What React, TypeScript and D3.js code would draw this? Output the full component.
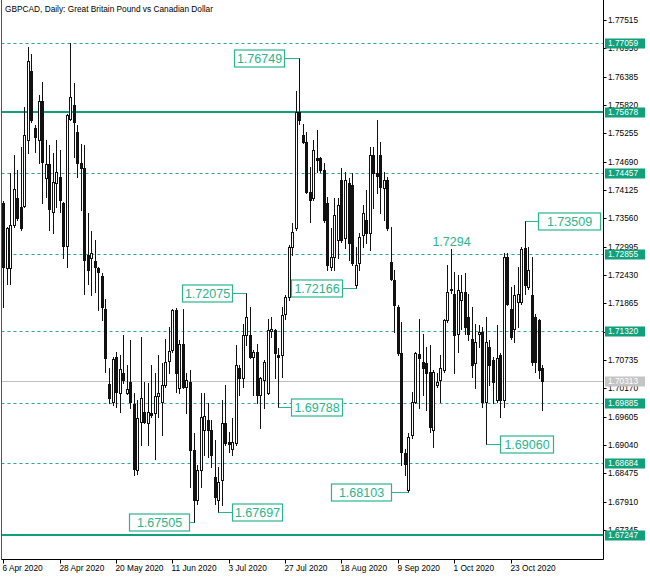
import React from "react";
import * as d3 from "d3";

// ---- Daily OHLC, GBPCAD, 6 Apr 2020 .. 5 Nov 2020 ----
const open = [
  1.7386, 1.7256, 1.7256, 1.7343, 1.7396, 1.7379, 1.7381, 1.7512, 1.7650, 1.7537,
  1.7512, 1.7590, 1.7436, 1.7464, 1.7369, 1.7426, 1.7439, 1.7387, 1.7301, 1.7555,
  1.7582, 1.7529, 1.7466, 1.7457, 1.7283, 1.7276, 1.7271, 1.7256, 1.7241, 1.7176,
  1.7025, 1.6990, 1.7080, 1.7007, 1.7047, 1.7007, 1.7030, 1.6985, 1.6854, 1.6950,
  1.6970, 1.6948, 1.6967, 1.6967, 1.7001, 1.6990, 1.7023, 1.7072, 1.7093, 1.7173,
  1.7017, 1.7105, 1.7020, 1.7030, 1.6894, 1.6794, 1.6854, 1.6934, 1.6954, 1.6934,
  1.6840, 1.6794, 1.6834, 1.6948, 1.6910, 1.6897, 1.6907, 1.7057, 1.7037, 1.7123,
  1.7123, 1.7080, 1.7090, 1.7003, 1.7033, 1.7007, 1.7132, 1.7133, 1.7083, 1.7083,
  1.7166, 1.7200, 1.7299, 1.7336, 1.7569, 1.7523, 1.7509, 1.7409, 1.7396, 1.7476,
  1.7476, 1.7452, 1.7387, 1.7259, 1.7279, 1.7313, 1.7432, 1.7316, 1.7426, 1.7422,
  1.7223, 1.7266, 1.7323, 1.7353, 1.7327, 1.7482, 1.7447, 1.7482, 1.7416, 1.7432,
  1.7269, 1.7233, 1.7180, 1.7088, 1.6888, 1.6815, 1.6924, 1.6990, 1.7085, 1.7070,
  1.7068, 1.7050, 1.6934, 1.7023, 1.7033, 1.7053, 1.7153, 1.7213, 1.7205, 1.7126,
  1.7193, 1.7210, 1.7160, 1.7116, 1.7067, 1.7126, 1.7130, 1.6990, 1.7100, 1.7073,
  1.6993, 1.7083, 1.6993, 1.7279, 1.7176, 1.7136, 1.7190, 1.7190, 1.7296, 1.7220,
  1.7203, 1.7160, 1.7153, 1.7057,
];
const high = [
  1.7390, 1.7339, 1.7446, 1.7482, 1.7452, 1.7499, 1.7579, 1.7698, 1.7683, 1.7542,
  1.7602, 1.7627, 1.7512, 1.7503, 1.7486, 1.7512, 1.7492, 1.7389, 1.7565, 1.7705,
  1.7625, 1.7542, 1.7505, 1.7502, 1.7366, 1.7331, 1.7313, 1.7259, 1.7246, 1.7196,
  1.7057, 1.7080, 1.7090, 1.7083, 1.7123, 1.7063, 1.7113, 1.7007, 1.6993, 1.7120,
  1.7030, 1.7027, 1.7063, 1.7047, 1.7083, 1.7067, 1.7116, 1.7140, 1.7176, 1.7178,
  1.7113, 1.7176, 1.7047, 1.7053, 1.6927, 1.6864, 1.7007, 1.7007, 1.6987, 1.6954,
  1.6914, 1.6860, 1.6993, 1.7023, 1.6930, 1.6957, 1.7103, 1.7063, 1.7146, 1.72075,
  1.7180, 1.7093, 1.7106, 1.7040, 1.7073, 1.7156, 1.7160, 1.7135, 1.7097, 1.7180,
  1.7203, 1.7303, 1.7346, 1.7609, 1.76749, 1.7545, 1.7529, 1.7459, 1.7512, 1.7532,
  1.7479, 1.7466, 1.7399, 1.7336, 1.7396, 1.7396, 1.7456, 1.7449, 1.7436, 1.7446,
  1.7299, 1.7326, 1.7382, 1.7412, 1.7499, 1.7499, 1.7553, 1.7509, 1.7449, 1.7439,
  1.7339, 1.7253, 1.7183, 1.7150, 1.6897, 1.6927, 1.7010, 1.7090, 1.7156, 1.7126,
  1.7100, 1.7103, 1.7053, 1.7047, 1.7083, 1.7156, 1.7263, 1.7294, 1.7249, 1.7243,
  1.7243, 1.7246, 1.7206, 1.7180, 1.7146, 1.7143, 1.7140, 1.7160, 1.7113, 1.7080,
  1.7143, 1.7087, 1.7286, 1.7286, 1.7220, 1.7223, 1.7259, 1.7299, 1.73509, 1.7299,
  1.7279, 1.7166, 1.7156, 1.7063,
];
const low = [
  1.7180, 1.7226, 1.7226, 1.7339, 1.7353, 1.7333, 1.7379, 1.7486, 1.7549, 1.7489,
  1.7466, 1.7386, 1.7399, 1.7333, 1.7326, 1.7379, 1.7369, 1.7276, 1.7259, 1.7552,
  1.7479, 1.7439, 1.7372, 1.7206, 1.7226, 1.7203, 1.7210, 1.7173, 1.7153, 1.7050,
  1.6987, 1.6983, 1.6980, 1.6970, 1.7027, 1.7006, 1.6977, 1.6844, 1.6847, 1.6904,
  1.6947, 1.6904, 1.6960, 1.6877, 1.6960, 1.6924, 1.7020, 1.7047, 1.7090, 1.7010,
  1.7007, 1.7017, 1.6967, 1.6821, 1.67505, 1.6787, 1.6821, 1.6884, 1.6880, 1.6860,
  1.6787, 1.67697, 1.6784, 1.6904, 1.6890, 1.6884, 1.6904, 1.7003, 1.7020, 1.7103,
  1.7077, 1.7003, 1.6987, 1.6937, 1.6977, 1.7005, 1.7120, 1.7037, 1.69788, 1.7040,
  1.7156, 1.7193, 1.7283, 1.7333, 1.7545, 1.7507, 1.7407, 1.7349, 1.7392, 1.7449,
  1.7449, 1.7349, 1.7253, 1.7253, 1.7253, 1.7276, 1.7309, 1.7296, 1.7273, 1.7263,
  1.72166, 1.7253, 1.7299, 1.7306, 1.7293, 1.7376, 1.7406, 1.7366, 1.7353, 1.7333,
  1.7233, 1.7130, 1.7083, 1.6864, 1.6844, 1.68103, 1.6917, 1.6987, 1.6977, 1.7003,
  1.6973, 1.6930, 1.6900, 1.7020, 1.6990, 1.7050, 1.7150, 1.7208, 1.7047, 1.7090,
  1.7136, 1.7126, 1.7113, 1.7040, 1.7017, 1.7100, 1.6980, 1.69060, 1.7023, 1.6987,
  1.6990, 1.6960, 1.6980, 1.7183, 1.7116, 1.7110, 1.7140, 1.7186, 1.7206, 1.7216,
  1.7063, 1.7050, 1.7037, 1.6973,
];
const close = [
  1.7259, 1.7336, 1.7343, 1.7414, 1.7356, 1.7336, 1.7523, 1.7670, 1.7552, 1.7519,
  1.7590, 1.7469, 1.7464, 1.7374, 1.7428, 1.7448, 1.7392, 1.7301, 1.7562, 1.7597,
  1.7549, 1.7466, 1.7457, 1.7273, 1.7253, 1.7286, 1.7259, 1.7249, 1.7180, 1.7077,
  1.6997, 1.7075, 1.7010, 1.7055, 1.7033, 1.7015, 1.6990, 1.6857, 1.6957, 1.6997,
  1.6950, 1.6970, 1.6963, 1.7001, 1.7007, 1.7023, 1.7070, 1.7092, 1.7173, 1.7047,
  1.7106, 1.7020, 1.7033, 1.6894, 1.6794, 1.6854, 1.6960, 1.6962, 1.6934, 1.6884,
  1.6801, 1.6831, 1.6947, 1.6907, 1.6906, 1.6910, 1.7063, 1.7037, 1.7123, 1.7160,
  1.7080, 1.7090, 1.7003, 1.7037, 1.7070, 1.7133, 1.7136, 1.7087, 1.7079, 1.7163,
  1.7200, 1.7299, 1.7329, 1.7569, 1.7552, 1.7509, 1.7409, 1.7392, 1.7492, 1.7472,
  1.7452, 1.7353, 1.7263, 1.7279, 1.7362, 1.7382, 1.7313, 1.7432, 1.7306, 1.7266,
  1.7263, 1.7319, 1.7366, 1.7326, 1.7482, 1.7446, 1.7440, 1.7419, 1.7432, 1.7336,
  1.7236, 1.7183, 1.7087, 1.6890, 1.6867, 1.6920, 1.6990, 1.7088, 1.7077, 1.7057,
  1.7048, 1.6940, 1.7050, 1.7030, 1.7057, 1.7153, 1.7210, 1.7216, 1.7123, 1.7213,
  1.7210, 1.7140, 1.7126, 1.7063, 1.7110, 1.7130, 1.6990, 1.7110, 1.7063, 1.7030,
  1.7077, 1.6993, 1.7279, 1.7186, 1.7120, 1.7203, 1.7206, 1.7294, 1.7223, 1.7253,
  1.7070, 1.7070, 1.7053, 1.70313,
];

// ---- Axis texts / levels ----
const dateLabels = [
  "6 Apr 2020", "28 Apr 2020", "20 May 2020", "11 Jun 2020", "3 Jul 2020",
  "27 Jul 2020", "18 Aug 2020", "9 Sep 2020", "1 Oct 2020", "23 Oct 2020",
];
const dateLabelBars = [0, 16, 32, 48, 64, 80, 96, 112, 128, 144];
const priceTicks = [
  1.77515, 1.7695, 1.76385, 1.7582, 1.75255, 1.7469, 1.74125, 1.7356, 1.72995,
  1.7243, 1.71865, 1.713, 1.70735, 1.7017, 1.69605, 1.6904, 1.68475, 1.6791, 1.67345,
];
const dashedLevels = [1.77059, 1.74457, 1.72855, 1.7132, 1.69885, 1.68684];
const solidLevels = [1.75678, 1.67247];
const currentPrice = 1.70313;
const title = "GBPCAD, Daily:  Great Britain Pound vs Canadian Dollar";

// Annotated extremes: bar index, which extreme, and the box placement
const boxedMarks = [
  { bar: 84, kind: "high", boxX: 234, boxW: 50 },
  { bar: 69, kind: "high", boxX: 182, boxW: 50 },
  { bar: 100, kind: "low", boxX: 291, boxW: 51 },
  { bar: 78, kind: "low", boxX: 291, boxW: 51 },
  { bar: 61, kind: "low", boxX: 232, boxW: 50 },
  { bar: 54, kind: "low", boxX: 129, boxW: 60 },
  { bar: 115, kind: "low", boxX: 331, boxW: 60 },
  { bar: 137, kind: "low", boxX: 500, boxW: 53 },
  { bar: 148, kind: "high", boxX: 538, boxW: 62 },
];
const textMarks = [{ bar: 127, kind: "high", label: "1.7294" }];

const GREEN = "#11a07a";
const DASH = "#28ab85";
const ANN = "#2cb48c";
const FONT = "'Liberation Sans', Arial, sans-serif";

export default function App() {
  const W = 650, H = 578;
  const plotL = 1.5, plotR = 603.5, plotB = 559.5;
  const n = open.length;
  const x = d3.scaleLinear().domain([0, n - 1]).range([3.3, 542.3]);
  const y = d3.scaleLinear().domain([1.67345, 1.77515]).range([530, 20]);
  const px = (i: number) => Math.round(x(i)) + 0.5;
  const py = (v: number) => Math.round(y(v)) + 0.5;

  const candles = d3.range(n).map((i) => {
    const o = open[i], c = close[i];
    const h = Math.max(high[i], o, c), l = Math.min(low[i], o, c);
    const cx = px(i);
    const top = Math.round(y(Math.max(o, c)));
    const bot = Math.round(y(Math.min(o, c)));
    const bull = c >= o;
    return (
      <g key={i}>
        <line x1={cx} x2={cx} y1={Math.round(y(h))} y2={Math.round(y(l)) + 1} stroke="#111" strokeWidth={1} />
        {bot - top <= 0 ? (
          <line x1={cx - 1.5} x2={cx + 1.5} y1={top + 0.5} y2={top + 0.5} stroke="#111" strokeWidth={1} />
        ) : (
          <rect x={cx - 1} y={top + 0.5} width={2} height={bot - top} fill={bull ? "#fff" : "#111"} stroke="#111" strokeWidth={1} />
        )}
      </g>
    );
  });

  return (
    <svg width={W} height={H} style={{ position: "absolute", left: 0, top: 0, background: "#fff" }} fontFamily={FONT}>
      <rect x={0} y={0} width={W} height={H} fill="#fff" />
      <defs>
        <clipPath id="plot">
          <rect x={plotL} y={0} width={plotR - plotL} height={plotB} />
        </clipPath>
      </defs>

      {/* title */}
      <text x={5} y={11.5} fontSize={8.3} fill="#000">{title}</text>

      <g clipPath="url(#plot)">
        {/* current price line */}
        <line x1={plotL} x2={plotR} y1={py(currentPrice)} y2={py(currentPrice)} stroke="#c0c0c0" strokeWidth={1} />
        {dashedLevels.map((v) => (
          <line key={v} x1={plotL} x2={plotR} y1={py(v)} y2={py(v)} stroke={DASH} strokeWidth={1} strokeDasharray="3,3" />
        ))}
        {solidLevels.map((v) => (
          <line key={v} x1={plotL} x2={plotR} y1={Math.round(y(v))} y2={Math.round(y(v))} stroke={GREEN} strokeWidth={2} />
        ))}
        {candles}

        {/* annotation connectors + boxes */}
        {boxedMarks.map((m) => {
          const v = m.kind === "high" ? high[m.bar] : low[m.bar];
          const yy = py(v);
          const cx = px(m.bar);
          const boxEdge = m.boxX + m.boxW < cx ? m.boxX + m.boxW : m.boxX;
          const lbl = v.toFixed(5);
          return (
            <g key={m.bar}>
              <line x1={boxEdge} x2={cx} y1={yy} y2={yy} stroke={ANN} strokeWidth={1} />
              <rect x={m.boxX + 0.5} y={yy - 8.5} width={m.boxW} height={17} fill="#fff" stroke={ANN} strokeWidth={1.2} />
              <text x={m.boxX + 0.5 + m.boxW / 2} y={yy + 4.5} fontSize={12.5} fill={ANN} textAnchor="middle">{lbl}</text>
            </g>
          );
        })}
        {textMarks.map((m) => (
          <text key={m.bar} x={px(m.bar)} y={y(high[m.bar]) - 3} fontSize={12.5} fill={ANN} textAnchor="middle">{m.label}</text>
        ))}
      </g>

      {/* frame */}
      <line x1={plotL} x2={plotL} y1={0} y2={plotB} stroke="#555" strokeWidth={1} />
      <line x1={plotR} x2={plotR} y1={0} y2={plotB} stroke="#000" strokeWidth={1} />
      <line x1={plotL} x2={plotR} y1={plotB} y2={plotB} stroke="#000" strokeWidth={1} />

      {/* price axis */}
      {priceTicks.map((v) => (
        <g key={v}>
          <line x1={plotR} x2={plotR + 3} y1={py(v)} y2={py(v)} stroke="#000" />
          <text x={608} y={y(v)} dy="0.35em" fontSize={8.3} fill="#000">{v.toFixed(5)}</text>
        </g>
      ))}
      {[...dashedLevels, ...solidLevels].map((v) => (
        <g key={"b" + v}>
          <rect x={605} y={Math.round(y(v)) - 4.5} width={40} height={10} fill={GREEN} />
          <text x={608} y={y(v)} dy="0.35em" fontSize={8.3} fill="#fff">{v.toFixed(5)}</text>
        </g>
      ))}
      <g>
        <rect x={605} y={Math.round(y(currentPrice)) - 4.5} width={40} height={10} fill="#c4c4c4" />
        <text x={608} y={y(currentPrice)} dy="0.35em" fontSize={8.3} fill="#fff">{currentPrice.toFixed(5)}</text>
      </g>

      {/* time axis */}
      {dateLabelBars.map((b, k) => (
        <g key={b}>
          <line x1={px(b)} x2={px(b)} y1={plotB} y2={plotB + 4} stroke="#000" />
          <text x={px(b) - 1} y={570.5} fontSize={8.3} fill="#000">{dateLabels[k]}</text>
        </g>
      ))}
    </svg>
  );
}
